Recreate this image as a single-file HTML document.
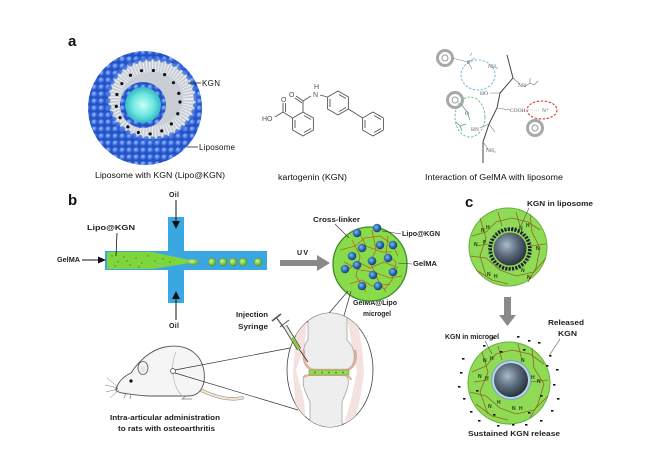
<!DOCTYPE html>
<html><head><meta charset="utf-8"><style>
html,body{margin:0;padding:0;background:#fff;}
svg{display:block;font-family:"Liberation Sans",Arial,sans-serif;}
</style></head><body>
<svg width="650" height="470" viewBox="0 0 650 470" xmlns="http://www.w3.org/2000/svg">
<defs>
<radialGradient id="bead" cx="40%" cy="35%" r="65%"><stop offset="0" stop-color="#9cc0ff"/><stop offset="0.55" stop-color="#3f74e6"/><stop offset="1" stop-color="#1c46b0"/></radialGradient>
<pattern id="beads" width="7" height="7" patternUnits="userSpaceOnUse"><rect width="7" height="7" fill="#2552c4"/><circle cx="3.5" cy="3.5" r="3.4" fill="url(#bead)"/></pattern>
<radialGradient id="core" cx="50%" cy="50%" r="50%"><stop offset="0" stop-color="#c8fff8"/><stop offset="0.6" stop-color="#6ee6e0"/><stop offset="1" stop-color="#33b9c6"/></radialGradient>
<radialGradient id="mdot" cx="40%" cy="40%" r="60%"><stop offset="0" stop-color="#7fb8e8"/><stop offset="0.6" stop-color="#2a6bb0"/><stop offset="1" stop-color="#173f78"/></radialGradient>
<radialGradient id="dark" cx="40%" cy="38%" r="65%"><stop offset="0" stop-color="#a9bccb"/><stop offset="0.5" stop-color="#5b6d7e"/><stop offset="1" stop-color="#27313c"/></radialGradient>
<radialGradient id="drop" cx="40%" cy="40%" r="60%"><stop offset="0" stop-color="#c8f59a"/><stop offset="1" stop-color="#5aa82a"/></radialGradient>
<clipPath id="jc"><ellipse cx="330" cy="370" rx="43" ry="57"/></clipPath>
</defs>

<!-- ============ PANEL A ============ -->
<text x="68" y="46" font-size="15" font-weight="bold" fill="#111">a</text>

<!-- liposome -->
<circle cx="145" cy="108" r="57" fill="url(#beads)"/>
<path d="M180,56 Q196,62 203,78 L196,80 Q190,70 183,66 Z" fill="#fff"/>
<ellipse cx="152" cy="99" rx="44" ry="40" fill="#c9ced6"/>
<ellipse cx="152" cy="99" rx="37" ry="33" fill="none" stroke="#eef1f4" stroke-width="12" stroke-dasharray="1 2"/>
<ellipse cx="152" cy="99" rx="44" ry="40" fill="none" stroke="#3a6ee0" stroke-width="5" stroke-dasharray="0 6.5" stroke-linecap="round" opacity="0.8"/>
<circle cx="148" cy="102" r="32" fill="none" stroke="#111" stroke-width="3.2" stroke-dasharray="0 12" stroke-linecap="round"/>
<circle cx="143" cy="105" r="23" fill="url(#beads)"/>
<circle cx="143" cy="105" r="18" fill="url(#core)"/>
<line x1="188" y1="83" x2="201" y2="83" stroke="#222" stroke-width="0.8"/>
<text x="202" y="86" font-size="8" fill="#111" textLength="18">KGN</text>
<line x1="187" y1="147" x2="198" y2="147" stroke="#222" stroke-width="0.8"/>
<text x="199" y="150" font-size="8" fill="#111" textLength="36">Liposome</text>
<text x="95" y="178" font-size="8" fill="#111" textLength="130" lengthAdjust="spacingAndGlyphs">Liposome with KGN (Lipo@KGN)</text>

<!-- kartogenin -->
<g fill="none" stroke="#555" stroke-width="0.9">
<polygon points="303,112 313.4,118 313.4,130 303,136 292.6,130 292.6,118"/>
<line x1="304" y1="115.5" x2="311" y2="119.5"/><line x1="311" y1="128.5" x2="304" y2="132.5"/><line x1="295" y1="128" x2="295" y2="120"/>
<polygon points="338,91 348.4,97 348.4,109 338,115 327.6,109 327.6,97"/>
<line x1="339" y1="94.5" x2="346" y2="98.5"/><line x1="346" y1="107.5" x2="339" y2="111.5"/><line x1="330" y1="107" x2="330" y2="99"/>
<polygon points="373,112 383.4,118 383.4,130 373,136 362.6,130 362.6,118"/>
<line x1="374" y1="115.5" x2="381" y2="119.5"/><line x1="381" y1="128.5" x2="374" y2="132.5"/><line x1="365" y1="128" x2="365" y2="120"/>
<line x1="348.4" y1="109" x2="362.6" y2="118"/>
<line x1="292.6" y1="118" x2="283" y2="112"/>
<line x1="283" y1="112" x2="283" y2="103"/><line x1="285.5" y1="112" x2="285.5" y2="103"/>
<line x1="283" y1="112" x2="275" y2="117"/>
<line x1="303" y1="112" x2="303" y2="101"/>
<line x1="303" y1="101" x2="296" y2="96"/><line x1="302" y1="103" x2="295" y2="98"/>
<line x1="303" y1="101" x2="311" y2="96"/>
<line x1="320" y1="95" x2="327.6" y2="97"/>
</g>
<g font-size="7" fill="#555">
<text x="281" y="102">O</text>
<text x="262" y="121">HO</text>
<text x="289" y="97">O</text>
<text x="313" y="97">N</text>
<text x="314" y="89">H</text>
</g>
<text x="278" y="180" font-size="8" fill="#111" textLength="69" lengthAdjust="spacingAndGlyphs">kartogenin (KGN)</text>

<!-- GelMA interaction -->
<g fill="none">
<circle cx="445" cy="58" r="7.5" stroke="#a8a8a8" stroke-width="3"/><circle cx="445" cy="58" r="3" stroke="#999" stroke-width="1"/>
<circle cx="455" cy="100" r="7.5" stroke="#a8a8a8" stroke-width="3"/><circle cx="455" cy="100" r="3" stroke="#999" stroke-width="1"/>
<circle cx="535" cy="128" r="7.5" stroke="#a8a8a8" stroke-width="3"/><circle cx="535" cy="128" r="3" stroke="#999" stroke-width="1"/>
<ellipse cx="478" cy="75" rx="17" ry="15" stroke="#6fbfd8" stroke-width="1" stroke-dasharray="2.5 1.5"/>
<ellipse cx="470" cy="117" rx="15" ry="20" stroke="#7fbf8f" stroke-width="1" stroke-dasharray="2.5 1.5"/>
<ellipse cx="542" cy="110" rx="15" ry="9" stroke="#d84040" stroke-width="1.1" stroke-dasharray="2.5 1.5"/>
<path d="M507,55 L513,78 L500,93 L497,108 L489,124 L483,142 L483,163" stroke="#444" stroke-width="1"/>
<path d="M452,58 L468,62 L472,69 M468,62 L475,58 M470,56 L472,53" stroke="#888" stroke-width="0.6"/>
<path d="M513,78 L520,84 M524,87 L530,83 L534,85 M530,83 L530,78 M534,85 L538,81" stroke="#777" stroke-width="0.6"/>
<path d="M500,93 L490,93 M497,108 L510,110 M489,124 L480,128 M489,124 L495,132 M483,142 L488,149" stroke="#777" stroke-width="0.6"/>
<path d="M461,104 L467,112 L470,120 M466,124 L460,126 L456,122 M460,126 L462,131" stroke="#6a9a8a" stroke-width="0.8"/>
<line x1="524" y1="110" x2="540" y2="110" stroke="#999" stroke-width="0.6" stroke-dasharray="1 1"/>
</g>
<g font-family="Liberation Serif,serif" font-size="5.5" fill="#556">
<text x="488" y="68">NH₂</text><text x="518" y="87">NH</text><text x="480" y="95">HO</text>
<text x="510" y="112">COOH</text><text x="471" y="131">HN</text><text x="486" y="152">NH₂</text>
<text x="542" y="112">N⁺</text><text x="467" y="64">P</text><text x="465" y="115">O</text>
</g>
<text x="425" y="180" font-size="8" fill="#111" textLength="138" lengthAdjust="spacingAndGlyphs">Interaction of GelMA with liposome</text>

<!-- ============ PANEL B ============ -->
<text x="68" y="205" font-size="15" font-weight="bold" fill="#111">b</text>
<rect x="168" y="217" width="16" height="86" fill="#3aa7e2"/>
<rect x="105" y="251" width="162" height="19" fill="#3aa7e2"/>
<path d="M107,252 L152,252 L190,260 L190,263 L152,269 L107,269 Z" fill="#7ed63c"/>
<g fill="#3a8a20">
<circle cx="112" cy="256" r="0.7"/><circle cx="118" cy="262" r="0.7"/><circle cx="124" cy="257" r="0.7"/><circle cx="130" cy="265" r="0.7"/><circle cx="136" cy="258" r="0.7"/><circle cx="142" cy="263" r="0.7"/><circle cx="148" cy="256" r="0.7"/><circle cx="115" cy="266" r="0.7"/><circle cx="127" cy="261" r="0.7"/><circle cx="139" cy="267" r="0.7"/><circle cx="155" cy="261" r="0.7"/><circle cx="163" cy="259" r="0.7"/><circle cx="170" cy="262" r="0.7"/>
</g>
<ellipse cx="193" cy="262" rx="6" ry="3" fill="url(#drop)"/>
<circle cx="212" cy="262" r="4" fill="url(#drop)" stroke="#4a8a2a" stroke-width="0.5"/>
<circle cx="223" cy="262" r="4" fill="url(#drop)" stroke="#4a8a2a" stroke-width="0.5"/>
<circle cx="233" cy="262" r="4" fill="url(#drop)" stroke="#4a8a2a" stroke-width="0.5"/>
<circle cx="243" cy="262" r="4" fill="url(#drop)" stroke="#4a8a2a" stroke-width="0.5"/>
<circle cx="258" cy="262" r="4" fill="url(#drop)" stroke="#4a8a2a" stroke-width="0.5"/>
<!-- arrows -->
<line x1="176" y1="200" x2="176" y2="223" stroke="#111" stroke-width="1"/>
<polygon points="172,221 180,221 176,229" fill="#111"/>
<line x1="176" y1="320" x2="176" y2="297" stroke="#111" stroke-width="1"/>
<polygon points="172,299 180,299 176,291" fill="#111"/>
<line x1="82" y1="260" x2="99" y2="260" stroke="#111" stroke-width="1"/>
<polygon points="98,256.5 106,260 98,263.5" fill="#111"/>
<line x1="117" y1="233" x2="116" y2="256" stroke="#111" stroke-width="0.8"/>
<g font-size="7" font-weight="bold" fill="#222">
<text x="169" y="197" textLength="10">Oil</text>
<text x="169" y="328" textLength="10">Oil</text>
<text x="87" y="230" textLength="48" lengthAdjust="spacingAndGlyphs">Lipo@KGN</text>
<text x="57" y="262" textLength="23" lengthAdjust="spacingAndGlyphs">GelMA</text>
<text x="297" y="255" textLength="11">UV</text>
<text x="313" y="222" textLength="47" lengthAdjust="spacingAndGlyphs">Cross-linker</text>
<text x="402" y="236" textLength="38" lengthAdjust="spacingAndGlyphs">Lipo@KGN</text>
<text x="413" y="266" textLength="24" lengthAdjust="spacingAndGlyphs">GelMA</text>
<text x="353" y="305" textLength="44" lengthAdjust="spacingAndGlyphs">GelMA@Lipo</text>
<text x="363" y="316" textLength="28" lengthAdjust="spacingAndGlyphs">microgel</text>
<text x="236" y="317" textLength="32" lengthAdjust="spacingAndGlyphs">Injection</text>
<text x="238" y="329" textLength="30" lengthAdjust="spacingAndGlyphs">Syringe</text>
<text x="110" y="420" textLength="110" lengthAdjust="spacingAndGlyphs">Intra-articular administration</text>
<text x="118" y="431" textLength="97" lengthAdjust="spacingAndGlyphs">to rats with osteoarthritis</text>
</g>
<!-- gray arrow -->
<rect x="280" y="260" width="38" height="6" fill="#8a8a8a"/>
<polygon points="317,255 330,263 317,271" fill="#8a8a8a"/>

<!-- microgel -->
<circle cx="370" cy="264" r="37" fill="#88dc4a" stroke="#3c8a28" stroke-width="1.3"/>
<g fill="none" stroke="#b8661e" stroke-width="0.8">
<path d="M340,250 L355,246 L365,238 L380,236 L392,244 L398,256"/>
<path d="M345,272 L358,262 L370,268 L384,262 L398,268"/>
<path d="M352,240 L360,256 L356,276 L366,292"/>
<path d="M372,230 L376,250 L370,262 L378,280 L386,292"/>
<path d="M388,236 L386,254 L396,262 L392,280 L384,290"/>
<path d="M344,262 L360,270 L374,272 L390,278 L402,276"/>
<path d="M350,284 L362,280 L372,286 L390,284"/>
<path d="M360,234 L366,246 L382,252 L392,252"/>
</g>
<g fill="url(#mdot)">
<circle cx="357" cy="233" r="4.3"/><circle cx="377" cy="228" r="4.3"/><circle cx="380" cy="245" r="4.3"/><circle cx="393" cy="245" r="4.3"/>
<circle cx="362" cy="248" r="4.3"/><circle cx="352" cy="256" r="4.3"/><circle cx="388" cy="258" r="4.3"/><circle cx="372" cy="261" r="4.3"/>
<circle cx="357" cy="265" r="4.3"/><circle cx="345" cy="269" r="4.3"/><circle cx="393" cy="272" r="4.3"/><circle cx="373" cy="275" r="4.3"/>
<circle cx="362" cy="286" r="4.3"/><circle cx="378" cy="286" r="4.3"/>
</g>
<line x1="335" y1="224" x2="349" y2="238" stroke="#333" stroke-width="0.6"/>
<line x1="382" y1="231" x2="401" y2="234" stroke="#333" stroke-width="0.6"/>
<line x1="398" y1="263" x2="412" y2="264" stroke="#333" stroke-width="0.6"/>

<!-- lines microgel -> joint -->
<line x1="348" y1="291" x2="300" y2="347" stroke="#333" stroke-width="0.7"/>
<line x1="351" y1="291" x2="328" y2="372" stroke="#333" stroke-width="0.7"/>

<!-- rat -->
<path d="M198,389 C214,396 226,401 242,398" fill="none" stroke="#9a8a78" stroke-width="3.4" stroke-linecap="round"/>
<path d="M198,389 C214,396 226,401 242,398" fill="none" stroke="#efe4d6" stroke-width="2.2" stroke-linecap="round"/>
<path d="M116,389 C118,382 124,376 131,373 C138,362 150,350 165,347 C186,343 201,353 204,371 C206,386 200,396 188,396 L150,396 C140,396 130,394 122,393 C118,392 115,391 116,389 Z" fill="#f5f5f5" stroke="#555" stroke-width="0.9"/>
<path d="M176,352 C170,365 172,385 182,396" fill="none" stroke="#aaa" stroke-width="0.6"/>
<ellipse cx="143" cy="368" rx="5" ry="6.5" fill="#f2f2f2" stroke="#555" stroke-width="0.8"/>
<ellipse cx="143" cy="369" rx="2.5" ry="3.5" fill="#e6e6e6"/>
<circle cx="131" cy="381" r="1.6" fill="#111"/>
<circle cx="116.5" cy="389" r="1" fill="#555"/>
<g stroke="#777" stroke-width="0.5"><line x1="118" y1="387" x2="107" y2="378"/><line x1="118" y1="388" x2="105" y2="385"/><line x1="118" y1="389" x2="106" y2="392"/><line x1="119" y1="390" x2="110" y2="398"/></g>
<path d="M126,393 L124,398 M131,394 L130,399 M186,396 L182,399 L192,399" fill="none" stroke="#777" stroke-width="0.7"/>
<circle cx="173" cy="371" r="2.5" fill="#fff" stroke="#444" stroke-width="0.7"/>
<line x1="175" y1="370" x2="290" y2="348" stroke="#333" stroke-width="0.7"/>
<line x1="175" y1="373" x2="298" y2="410" stroke="#333" stroke-width="0.7"/>

<!-- joint -->
<ellipse cx="330" cy="370" rx="43" ry="57" fill="#fff" stroke="#444" stroke-width="0.8"/>
<g clip-path="url(#jc)">
<path d="M298,312 L307,312 L305,345 L296,370 L304,400 L306,428 L297,428 L293,372 Z" fill="#f3e2e0"/>
<path d="M346,312 L356,312 L362,348 L364,372 L360,400 L352,428 L343,428 L351,400 L357,372 L352,345 Z" fill="#f3e2e0"/>
<path d="M308,310 L308,340 C300,350 302,368 315,370 L345,370 C356,368 358,350 347,340 L347,310 Z" fill="#eeeeee" stroke="#999" stroke-width="0.7"/>
<path d="M304,350 C302,366 310,370 315,370 L345,370 C352,370 358,362 355,350" fill="none" stroke="#e2ae9c" stroke-width="2.5"/>
<path d="M305,375 L346,375 C352,382 345,394 342,402 L342,430 L310,430 L310,402 C306,394 300,382 305,375 Z" fill="#eeeeee" stroke="#999" stroke-width="0.7"/>
<path d="M303,378 C305,375 310,375 312,375 L340,375 C346,375 350,376 351,380" fill="none" stroke="#e2ae9c" stroke-width="2"/>
<rect x="309" y="370" width="40" height="5" fill="#9bd85a" stroke="#5a9a32" stroke-width="0.5"/>
<g fill="#3f7f23"><circle cx="315" cy="372.5" r="0.9"/><circle cx="322" cy="372.5" r="0.9"/><circle cx="329" cy="372.5" r="0.9"/><circle cx="336" cy="372.5" r="0.9"/><circle cx="343" cy="372.5" r="0.9"/></g>
</g>

<!-- syringe -->
<line x1="276" y1="317" x2="284" y2="328" stroke="#555" stroke-width="1.2"/>
<line x1="272" y1="321" x2="281" y2="314" stroke="#555" stroke-width="1.6"/>
<line x1="280" y1="327" x2="289" y2="320" stroke="#555" stroke-width="1"/>
<line x1="285" y1="326" x2="299" y2="349" stroke="#444" stroke-width="4.5"/>
<line x1="285" y1="326" x2="299" y2="349" stroke="#dfe8d8" stroke-width="2.8"/>
<line x1="292" y1="338" x2="299" y2="349" stroke="#8cc63f" stroke-width="2.8"/>
<line x1="299" y1="349" x2="308" y2="362" stroke="#333" stroke-width="0.9"/>

<!-- ============ PANEL C ============ -->
<text x="465" y="207" font-size="15" font-weight="bold" fill="#111">c</text>
<g font-size="7" font-weight="bold" fill="#222">
<text x="527" y="206" textLength="66" lengthAdjust="spacingAndGlyphs">KGN in liposome</text>
<text x="445" y="339" textLength="54" lengthAdjust="spacingAndGlyphs">KGN in microgel</text>
<text x="548" y="325" textLength="36" lengthAdjust="spacingAndGlyphs">Released</text>
<text x="558" y="336" textLength="19" lengthAdjust="spacingAndGlyphs">KGN</text>
<text x="468" y="436" textLength="92" lengthAdjust="spacingAndGlyphs">Sustained KGN release</text>
</g>
<!-- top sphere -->
<circle cx="508" cy="247" r="39" fill="#8fdb55" stroke="#63b23e" stroke-width="1"/>
<g fill="none" stroke="#8a6a22" stroke-width="0.8">
<path d="M472,236 L486,232 L496,222 L512,218 L528,222 L540,230"/>
<path d="M470,256 L486,258 L500,270 L516,276 L534,272 L546,258"/>
<path d="M480,218 L486,238 L480,256 L486,276"/>
<path d="M530,214 L532,232 L540,248 L536,268 L528,282"/>
<path d="M498,212 L502,226 M516,212 L520,226"/>
<path d="M476,270 L492,280 L508,284"/>
<path d="M488,244 L476,246 M530,246 L546,244"/>
</g>
<circle cx="510" cy="249" r="20" fill="none" stroke="#1f2328" stroke-width="4" stroke-dasharray="2.2 1.2"/>
<circle cx="510" cy="249" r="21.5" fill="none" stroke="#9fc8d8" stroke-width="0.8" stroke-dasharray="1 2"/>
<circle cx="510" cy="249" r="16.5" fill="url(#dark)"/>
<path d="M498,258 Q510,250 520,236" fill="none" stroke="#c0585a" stroke-width="0.5" opacity="0.6"/>
<g font-size="5" fill="#1c3a10" font-weight="bold">
<text x="481" y="232">N</text><text x="486" y="229">H</text><text x="519" y="230">N</text><text x="526" y="227">H</text>
<text x="474" y="246">N</text><text x="483" y="244">P</text><text x="536" y="250">N</text>
<text x="487" y="276">N</text><text x="494" y="278">H</text><text x="521" y="272">N</text><text x="527" y="279">N</text>
</g>
<line x1="529" y1="208" x2="519" y2="230" stroke="#555" stroke-width="0.6"/>

<!-- arrow down -->
<rect x="504" y="297" width="7" height="20" fill="#8a8a8a"/>
<polygon points="499,315 516,315 507.5,326" fill="#8a8a8a"/>

<!-- bottom sphere -->
<circle cx="509" cy="383" r="41" fill="#8fdb55" stroke="#63b23e" stroke-width="1"/>
<g fill="none" stroke="#8a6a22" stroke-width="0.8">
<path d="M472,372 L486,366 L496,354 L512,350 L530,354 L544,364"/>
<path d="M470,392 L486,396 L500,408 L516,414 L534,410 L548,396"/>
<path d="M482,352 L488,372 L480,392 L488,414"/>
<path d="M532,348 L534,368 L544,384 L538,404 L530,418"/>
<path d="M498,346 L502,360 M518,344 L522,360"/>
<path d="M476,404 L492,416 L508,420"/>
<path d="M488,380 L474,382 M530,382 L548,380"/>
</g>
<circle cx="511" cy="380" r="19.5" fill="#b9d9e6" stroke="#7fa9bd" stroke-width="1.2"/>
<circle cx="511" cy="380" r="17" fill="url(#dark)"/>
<path d="M499,390 Q511,381 521,367" fill="none" stroke="#c0585a" stroke-width="0.5" opacity="0.6"/>
<g font-size="5" fill="#1c3a10" font-weight="bold">
<text x="483" y="362">N</text><text x="490" y="360">H</text><text x="521" y="362">N</text>
<text x="478" y="378">N</text><text x="485" y="380">H</text><text x="531" y="379">H</text><text x="537" y="383">N</text>
<text x="488" y="408">N</text><text x="497" y="404">H</text><text x="512" y="410">N</text><text x="519" y="410">H</text>
</g>
<g fill="#111">
<rect x="492" y="337" width="2.5" height="1.6"/><rect x="517" y="336" width="2.5" height="1.6"/><rect x="528" y="340" width="2.5" height="1.6"/>
<rect x="538" y="342" width="2.5" height="1.6"/><rect x="483" y="345" width="2.5" height="1.6"/><rect x="549" y="355" width="2.5" height="1.6"/>
<rect x="462" y="358" width="2.5" height="1.6"/><rect x="556" y="369" width="2.5" height="1.6"/><rect x="460" y="372" width="2.5" height="1.6"/>
<rect x="553" y="384" width="2.5" height="1.6"/><rect x="458" y="386" width="2.5" height="1.6"/><rect x="557" y="398" width="2.5" height="1.6"/>
<rect x="463" y="398" width="2.5" height="1.6"/><rect x="551" y="410" width="2.5" height="1.6"/><rect x="470" y="411" width="2.5" height="1.6"/>
<rect x="540" y="420" width="2.5" height="1.6"/><rect x="478" y="420" width="2.5" height="1.6"/><rect x="497" y="425" width="2.5" height="1.6"/>
<rect x="512" y="424" width="2.5" height="1.6"/><rect x="525" y="424" width="2.5" height="1.6"/><rect x="546" y="365" width="2.5" height="1.6"/>
<rect x="500" y="351" width="2.5" height="1.6"/><rect x="523" y="349" width="2.5" height="1.6"/><rect x="476" y="390" width="2.5" height="1.6"/>
<rect x="540" y="395" width="2.5" height="1.6"/><rect x="493" y="414" width="2.5" height="1.6"/><rect x="528" y="412" width="2.5" height="1.6"/>
</g>
<line x1="485" y1="341" x2="492" y2="354" stroke="#555" stroke-width="0.6"/>
<line x1="560" y1="339" x2="549" y2="356" stroke="#555" stroke-width="0.6"/>
</svg>
</body></html>
